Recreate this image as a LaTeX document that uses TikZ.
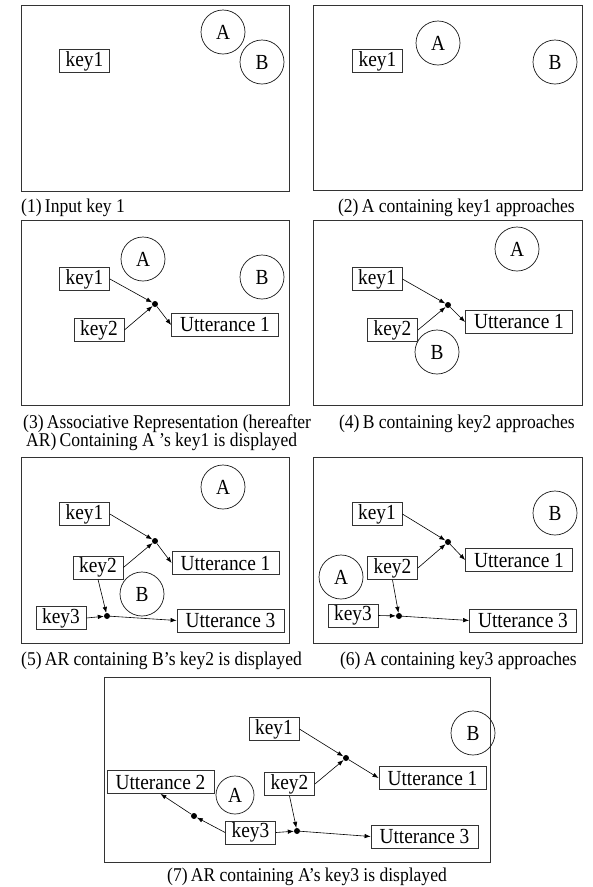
\documentclass[tikz,border=0pt]{standalone}
\usepackage{fontspec}
\setmainfont[FakeStretch=0.9]{Liberation Serif}
\usetikzlibrary{arrows.meta}

\tikzset{
    panel/.style={draw=black!80, line width=0.9pt},
    keybox/.style={draw=black!80, line width=0.8pt, minimum width=50pt,
        minimum height=23pt, inner sep=0pt, font=\fontsize{21.5}{23}\selectfont},
    uttbox/.style={keybox, minimum width=107pt},
    agent/.style={draw=black!90, line width=0.7pt, circle, minimum size=44pt,
        inner sep=0pt, font=\fontsize{21.5}{23}\selectfont},
    joint/.style={circle, fill=black, minimum size=6pt, inner sep=0pt},
    link/.style={-{Latex[length=6pt,width=4.5pt]}, line width=0.6pt},
    captext/.style={font=\fontsize{19.5}{20}\selectfont, inner sep=0pt}
}

\begin{document}
\begin{tikzpicture}[x=1pt,y=-1pt]
\useasboundingbox (0,0) rectangle (593,887);

% (1)
\draw[panel] (21,5) rectangle (289,191);
\node[keybox] (key1a) at (84.5,61) {key1};
\node[agent] (aga) at (223,32) {A};
\node[agent] (bga) at (262,62) {B};
\node[captext, anchor=west] (capa) at (21,208) {(1)\,Input key 1};

% (2)
\draw[panel] (313,5) rectangle (582,190);
\node[keybox] (key1b) at (377.5,61) {key1};
\node[agent] (agb) at (438,43) {A};
\node[agent] (bgb) at (555,62) {B};
\node[captext, anchor=east] (capb) at (575,208) {(2)\,A containing key1 approaches};

% (3)
\draw[panel] (21,220) rectangle (289,405);
\node[agent] (agc) at (143,259) {A};
\node[agent] (bgc) at (262,277) {B};
\node[keybox] (key1c) at (84.5,279) {key1};
\node[keybox] (key2c) at (99,330) {key2};
\node[joint] (dot1c) at (155,304) {};
\node[uttbox] (utt1c) at (225,325) {Utterance 1};
\draw[link] (key1c.east) -- (dot1c);
\draw[link] (key2c.east) -- (dot1c);
\draw[link] (dot1c) -- (utt1c.west);
\node[captext, anchor=west, align=left] (capc) at (23,433)
    {(3)\,Associative Representation (hereafter\\[-2pt]
     \hspace*{3pt}AR)\,Containing A 's key1 is displayed};

% (4)
\draw[panel] (313,220) rectangle (582,405);
\node[agent] (agd) at (517,249) {A};
\node[agent] (bgd) at (437,352) {B};
\node[keybox] (key1d) at (377,279) {key1};
\node[keybox] (key2d) at (392.5,330) {key2};
\node[joint] (dot1d) at (448,305) {};
\node[uttbox] (utt1d) at (519,322) {Utterance 1};
\draw[link] (key1d.east) -- (dot1d);
\draw[link] (key2d.east) -- (dot1d);
\draw[link] (dot1d) -- (utt1d.west);
\node[captext, anchor=east] (capd) at (575,424) {(4)\,B containing key2 approaches};

% (5)
\draw[panel] (21,457) rectangle (289,643);
\node[agent] (age) at (223,487) {A};
\node[agent] (bge) at (142,594) {B};
\node[keybox] (key1e) at (84.5,514) {key1};
\node[keybox] (key2e) at (98,567.5) {key2};
\node[keybox] (key3e) at (61,618) {key3};
\node[joint] (dot1e) at (155,541) {};
\node[joint] (dot2e) at (107,616) {};
\node[uttbox] (utt1e) at (225.5,563) {Utterance 1};
\node[uttbox] (utt3e) at (230.5,620.5) {Utterance 3};
\draw[link] (key1e.east) -- (dot1e);
\draw[link] (key2e.east) -- (dot1e);
\draw[link] (dot1e) -- (utt1e.west);
\draw[link] (key2e.south) -- (dot2e);
\draw[link] (key3e.east) -- (dot2e);
\draw[link] (dot2e) -- (utt3e.west);
\node[captext, anchor=west] (cape) at (21,661) {(5)\,AR containing B's key2 is displayed};

% (6)
\draw[panel] (313,457) rectangle (582,643);
\node[agent] (bgf) at (555,513) {B};
\node[agent] (agf) at (341,577) {A};
\node[keybox] (key1f) at (377,514) {key1};
\node[keybox] (key2f) at (392.5,568) {key2};
\node[keybox] (key3f) at (353,615.5) {key3};
\node[joint] (dot1f) at (448,542) {};
\node[joint] (dot2f) at (399,616) {};
\node[uttbox] (utt1f) at (519,560) {Utterance 1};
\node[uttbox] (utt3f) at (523,620.5) {Utterance 3};
\draw[link] (key1f.east) -- (dot1f);
\draw[link] (key2f.east) -- (dot1f);
\draw[link] (dot1f) -- (utt1f.west);
\draw[link] (key2f.south) -- (dot2f);
\draw[link] (key3f.east) -- (dot2f);
\draw[link] (dot2f) -- (utt3f.west);
\node[captext, anchor=east] (capf) at (577,661) {(6)\,A containing key3 approaches};

% (7)
\draw[panel] (104,677) rectangle (490,862);
\node[agent] (bgg) at (473,733) {B};
\node[agent, minimum size=38pt] (agg) at (235,795) {A};
\node[keybox] (key1g) at (274,729) {key1};
\node[keybox] (key2g) at (289.5,784) {key2};
\node[keybox] (key3g) at (250.5,832.5) {key3};
\node[joint] (dot1g) at (346,758) {};
\node[joint] (dot2g) at (297,831) {};
\node[joint] (dot3g) at (194,816) {};
\node[uttbox] (utt1g) at (432.5,778) {Utterance 1};
\node[uttbox] (utt2g) at (160.5,782) {Utterance 2};
\node[uttbox] (utt3g) at (424.5,836.5) {Utterance 3};
\draw[link] (key1g.east) -- (dot1g);
\draw[link] (key2g.east) -- (dot1g);
\draw[link] (dot1g) -- (utt1g.west);
\draw[link] (key2g.south) -- (dot2g);
\draw[link] (key3g.east) -- (dot2g);
\draw[link] (dot2g) -- (utt3g.west);
\draw[link] (key3g.west) -- (dot3g);
\draw[link] (dot3g) -- (utt2g.south);
\node[captext] (capg) at (307,877) {(7)\,AR containing A's key3 is displayed};

\end{tikzpicture}
\end{document}
